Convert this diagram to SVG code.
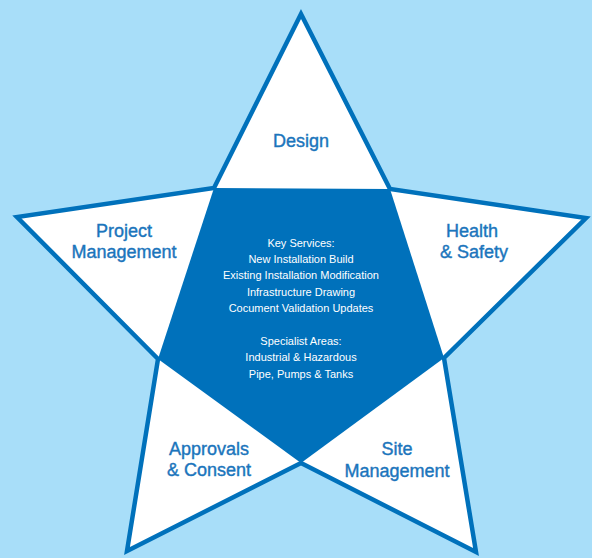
<svg xmlns="http://www.w3.org/2000/svg" width="592" height="558" viewBox="0 0 592 558">
  <style>
    .lbl { font-family: "Liberation Sans", Arial, sans-serif; font-size: 18px; fill: #1b75bc; stroke: #1b75bc; stroke-width: 0.4; text-anchor: middle; }
    .core { font-family: "Liberation Sans", Arial, sans-serif; font-size: 11px; fill: #ffffff; text-anchor: middle; }
  </style>
  <rect x="0" y="0" width="592" height="558" fill="#a8def9"/>
  <g id="star-outline">
    <polygon points="301,14 214,188 17,217 158,359 127,551 301,463 476,552 444,358 586,218 390,189" fill="#ffffff" stroke="#0071bb" stroke-width="4.5" stroke-linejoin="miter"/>
  </g>
  <g id="core">
    <polygon points="214,188 390,189 444,358 301,463 158,359" fill="#0071bb"/>
    <text class="core" x="301" y="247">Key Services:</text>
    <text class="core" x="301" y="263">New Installation Build</text>
    <text class="core" x="301" y="279">Existing Installation Modification</text>
    <text class="core" x="301" y="296">Infrastructure Drawing</text>
    <text class="core" x="301" y="312">Cocument Validation Updates</text>
    <text class="core" x="301" y="345">Specialist Areas:</text>
    <text class="core" x="301" y="361">Industrial &amp; Hazardous</text>
    <text class="core" x="301" y="378">Pipe, Pumps &amp; Tanks</text>
  </g>
  <g id="design">
    <text class="lbl" x="301" y="147">Design</text>
  </g>
  <g id="project-management">
    <text class="lbl" x="124" y="237">Project</text>
    <text class="lbl" x="124" y="258">Management</text>
  </g>
  <g id="health-safety">
    <text class="lbl" x="472" y="237">Health</text>
    <text class="lbl" x="474" y="258">&amp; Safety</text>
  </g>
  <g id="approvals-consent">
    <text class="lbl" x="209" y="455">Approvals</text>
    <text class="lbl" x="209" y="476">&amp; Consent</text>
  </g>
  <g id="site-management">
    <text class="lbl" x="397" y="455">Site</text>
    <text class="lbl" x="397" y="477">Management</text>
  </g>
  <g id="connectors"></g>
</svg>
